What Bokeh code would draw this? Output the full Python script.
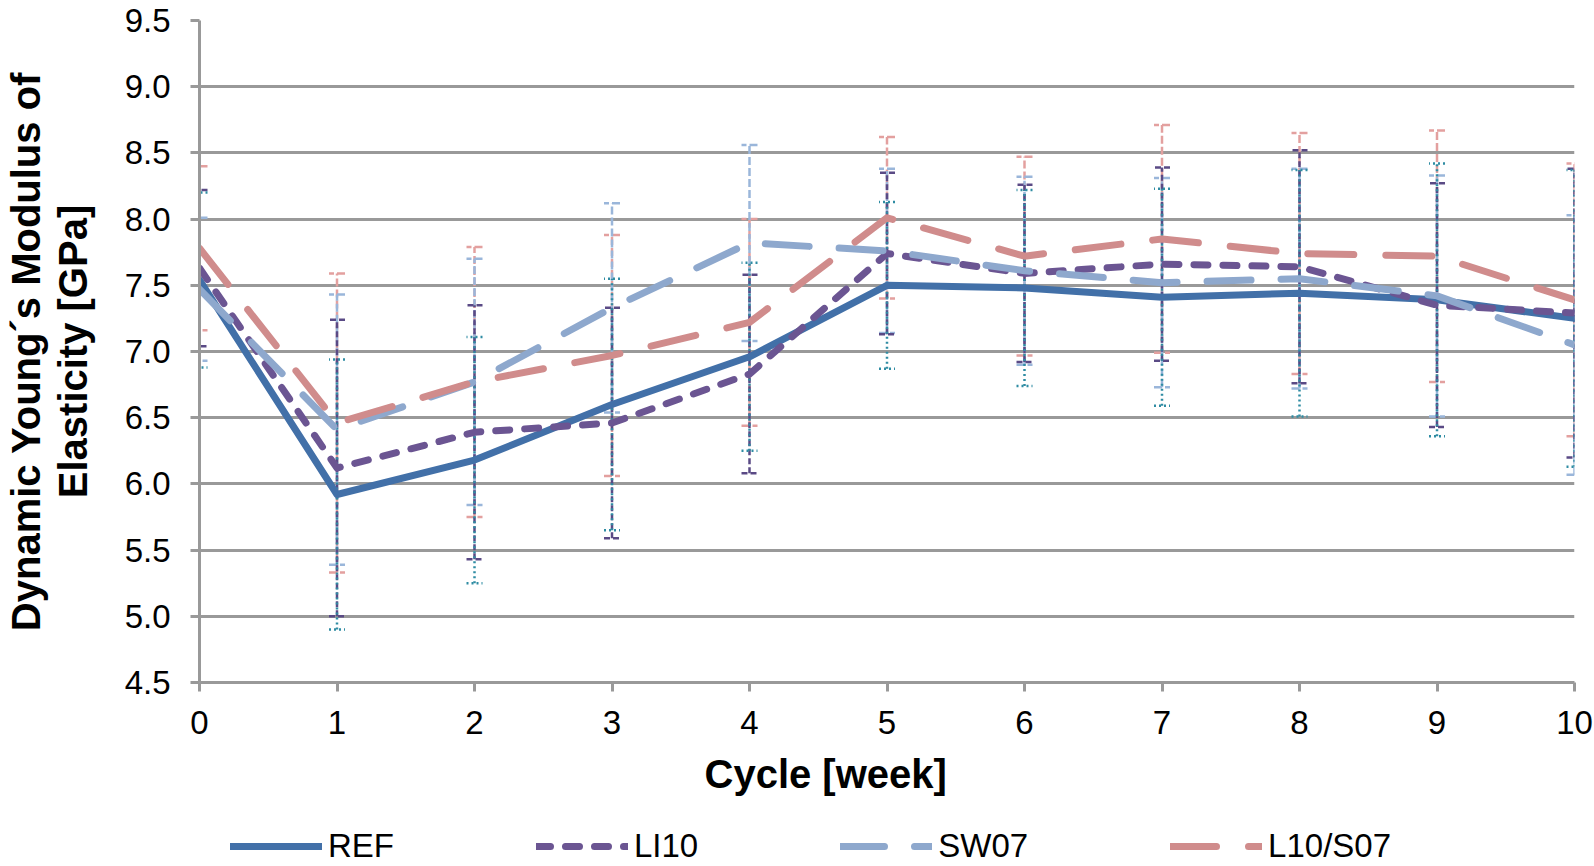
from bokeh.plotting import figure
from bokeh.layouts import column
from bokeh.models import (ColumnDataSource, Range1d, FixedTicker, PrintfTickFormatter,
                          Whisker, TeeHead, Legend, LegendItem, Title)
from bokeh.embed import file_html
from bokeh.resources import INLINE

cycles = [0, 1, 2, 3, 4, 5, 6, 7, 8, 9, 10]
series_names = ["REF", "LI10", "SW07", "L10/S07"]

ref_vals = [7.54, 5.92, 6.18, 6.60, 6.96, 7.50, 7.48, 7.41, 7.44, 7.39, 7.25]
ref_err = [0.66, 1.02, 0.93, 0.95, 0.71, 0.63, 0.74, 0.82, 0.93, 1.03, 1.12]

li10_vals = [7.63, 6.12, 6.39, 6.46, 6.83, 7.74, 7.59, 7.66, 7.64, 7.35, 7.29]
li10_err = [0.59, 1.12, 0.96, 0.87, 0.75, 0.61, 0.67, 0.73, 0.88, 0.92, 1.09]

sw07_vals = [7.47, 6.41, 6.77, 7.33, 7.82, 7.76, 7.61, 7.52, 7.55, 7.42, 7.05]
sw07_err = [0.54, 1.02, 0.93, 0.79, 0.74, 0.62, 0.71, 0.79, 0.83, 0.91, 0.98]

l10s07_vals = [7.78, 6.46, 6.77, 6.97, 7.22, 8.01, 7.72, 7.85, 7.74, 7.72, 7.39]
l10s07_err = [0.62, 1.13, 1.02, 0.91, 0.78, 0.61, 0.75, 0.86, 0.91, 0.95, 1.03]

y_ticks = [4.5, 5.0, 5.5, 6.0, 6.5, 7.0, 7.5, 8.0, 8.5, 9.0, 9.5]
x_ticks = cycles

x_title = "Cycle [week]"
y_title = "Dynamic Young\u00b4s Modulus of\nElasticity [GPa]"

FONT = "Liberation Sans"
COLORS = ["#4270A8", "#6B5592", "#8EA8CD", "#D08C8C"]
DASHES = ["solid", "14 15", "44 30", "46 32"]
ERR_COLORS = ["#2F8CA3", "#5A4A85", "#9AB6DA", "#E3A09F"]
ERR_DASHES = ["2 3", "6 3", "8 3", "8 3"]

W = 1594
p = figure(width=W, height=814, output_backend="svg", toolbar_location=None,
           x_range=Range1d(0, 10), y_range=Range1d(4.5, 9.5),
           min_border_left=199, min_border_right=20, min_border_top=20,
           min_border_bottom=132)
p.outline_line_color = None
p.background_fill_color = "white"
p.border_fill_color = "white"

p.xgrid.grid_line_color = None
p.ygrid.ticker = FixedTicker(ticks=y_ticks)
p.ygrid.grid_line_color = "#999999"
p.ygrid.grid_line_width = 3

p.yaxis.ticker = FixedTicker(ticks=y_ticks)
p.yaxis.formatter = PrintfTickFormatter(format="%.1f")
p.xaxis.ticker = FixedTicker(ticks=x_ticks)
for ax in (p.xaxis[0], p.yaxis[0]):
    ax.axis_line_color = "#999999"
    ax.axis_line_width = 3
    ax.major_tick_line_color = "#999999"
    ax.major_tick_line_width = 3
    ax.major_tick_out = 9
    ax.major_tick_in = 0
    ax.minor_tick_line_color = None
    ax.major_label_text_font = FONT
    ax.major_label_text_font_size = "33px"
    ax.major_label_text_color = "#000000"
    ax.axis_label_text_font = FONT
    ax.axis_label_text_font_style = "bold"
    ax.axis_label_text_font_size = "40px"
    ax.axis_label_text_color = "#000000"
    ax.axis_label_text_line_height = 1.05

p.xaxis.major_label_standoff = 19
p.yaxis.axis_label = y_title
p.yaxis.major_label_standoff = 20
p.yaxis.axis_label_standoff = 27

# x-axis title placed as a below-panel title (left of frame centre as in the original)
xt = Title(text=x_title, align="left", offset=505, standoff=26,
           text_font=FONT, text_font_style="bold", text_font_size="40px",
           text_color="#000000")
p.add_layout(xt, "below")


def make_src(vals, err):
    return ColumnDataSource(dict(
        x=cycles, y=vals,
        upper=[v + e for v, e in zip(vals, err)],
        lower=[v - e for v, e in zip(vals, err)]))


sources = [make_src(ref_vals, ref_err), make_src(li10_vals, li10_err),
           make_src(sw07_vals, sw07_err), make_src(l10s07_vals, l10s07_err)]

# error bars drawn first (pink at bottom, REF dotted on top)
for i in [3, 2, 1, 0]:
    c, d = ERR_COLORS[i], ERR_DASHES[i]
    w = Whisker(source=sources[i], base="x", upper="upper", lower="lower",
                line_color=c, line_width=2.5, line_dash=d,
                upper_head=TeeHead(size=16, line_color=c, line_width=2.5, line_dash=d),
                lower_head=TeeHead(size=16, line_color=c, line_width=2.5, line_dash=d),
                level="underlay")
    p.add_layout(w)

for i in range(4):
    p.line("x", "y", source=sources[i], line_color=COLORS[i], line_width=7,
           line_dash=DASHES[i], line_join="round", line_cap="round")

# legend in its own strip below the chart
lf = figure(width=W, height=56, output_backend="svg", toolbar_location=None,
            x_range=Range1d(0, 1), y_range=Range1d(0, 1),
            min_border_left=199, min_border_right=20, min_border_top=0, min_border_bottom=0)
lf.axis.visible = False
lf.grid.grid_line_color = None
lf.outline_line_color = None
lf.background_fill_color = "white"
lf.border_fill_color = "white"
items = []
for i in range(4):
    r = lf.line(x=[-5, -4], y=[-5, -5], line_color=COLORS[i], line_width=7,
                line_dash=DASHES[i], line_join="round", line_cap="round")
    items.append(LegendItem(label=series_names[i], renderers=[r]))
legend = Legend(items=items, orientation="horizontal", location=(31, 5))
legend.label_text_font = FONT
legend.label_text_font_size = "33px"
legend.label_text_color = "#000000"
legend.glyph_width = 92
legend.glyph_height = 30
legend.label_standoff = 6
legend.spacing = 142
legend.padding = 4
legend.margin = 0
legend.border_line_color = None
legend.background_fill_alpha = 0
lf.add_layout(legend, "center")

layout = column(p, lf, spacing=0)
open("out.html", "w").write(file_html(layout, INLINE))
